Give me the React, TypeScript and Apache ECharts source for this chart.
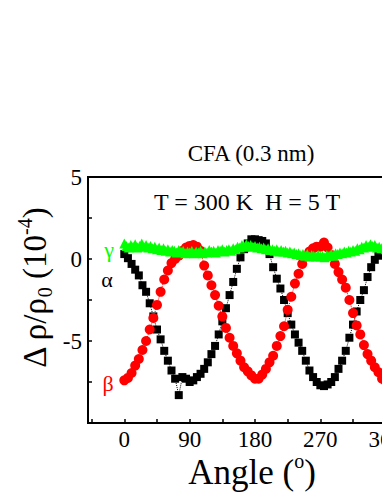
import React, { useEffect, useRef } from "react";
import * as echarts from "echarts";

const xTickValues = [-45, 0, 45, 90, 135, 180, 225, 270, 315, 360, 405];
const xLabelValues = [0, 90, 180, 270, 360];
const yLabelValues = [5, 0, -5];

const alphaAngle = [
  0, 5, 10, 15, 20, 25, 30, 35, 40, 45, 50, 55, 60, 65, 70, 75, 80, 85, 90, 95,
  100, 105, 110, 115, 120, 125, 130, 135, 140, 145, 150, 155, 160, 165, 170, 175,
  180, 185, 190, 195, 200, 205, 210, 215, 220, 225, 230, 235, 240, 245, 250, 255,
  260, 265, 270, 275, 280, 285, 290, 295, 300, 305, 310, 315, 320, 325, 330, 335,
  340, 345, 350, 355, 360,
];
const alphaValue = [
  0.3, 0.05, -0.3, -0.65, -1.0, -1.6, -2.0, -2.7, -3.5, -4.3, -4.9, -5.6, -6.2, -6.8, -7.3, -8.3, -7.2, -7.3, -7.5, -7.4,
  -7.2, -7.0, -6.7, -6.3, -5.8, -5.3, -4.6, -3.8, -3.0, -2.2, -1.4, -0.6, 0.1, 0.6, 0.95, 1.2,
  1.2, 1.15, 1.1, 0.95, 0.3, -0.5, -1.2, -1.8, -2.5, -3.3, -4.0, -4.6, -5.1, -5.6, -6.2, -6.8,
  -7.2, -7.5, -7.7, -7.75, -7.65, -7.5, -7.2, -6.7, -6.2, -5.6, -4.8, -4.0, -3.2, -2.5, -1.9, -1.1,
  -0.5, -0.05, 0.2, 0.3, 0.35,
];

const betaAngle = [
  0, 5, 10, 15, 20, 25, 30, 35, 40, 45, 50, 55, 60, 65, 70, 75, 80, 85, 90, 95,
  100, 105, 110, 115, 120, 125, 130, 135, 140, 145, 150, 155, 160, 165, 170, 175,
  180, 185, 190, 195, 200, 205, 210, 215, 220, 225, 230, 235, 240, 245, 250, 255,
  260, 265, 270, 275, 280, 285, 290, 295, 300, 305, 310, 315, 320, 325, 330, 335,
  340, 345, 350, 355, 360,
];
const betaValue = [
  -7.4, -7.25, -6.95, -6.5, -6.1, -5.55, -5.0, -4.3, -3.6, -2.8, -2.0, -1.25, -0.7, -0.25, 0.0, 0.2, 0.5, 0.7, 0.8, 0.85,
  0.75, 0.5, -0.4, -1.0, -1.6, -2.2, -2.85, -3.5, -4.2, -4.8, -5.3, -5.75, -6.2, -6.6, -6.85, -7.1,
  -7.3, -7.3, -7.05, -6.7, -6.3, -5.9, -5.3, -4.7, -4.1, -3.1, -2.3, -1.5, -0.9, -0.3, 0.15, 0.45,
  0.65, 0.75, 0.75, 1.0, 0.7, 0.25, -0.3, -0.8, -1.25, -1.75, -2.5, -3.3, -4.05, -4.6, -5.25, -5.8,
  -6.2, -6.6, -6.9, -7.3, -7.45,
];

const gammaAngle = [
  0, 3, 6, 9, 12, 15, 18, 21, 24, 27, 30, 33, 36, 39, 42, 45, 48, 51, 54, 57,
  60, 63, 66, 69, 72, 75, 78, 81, 84, 87, 90, 93, 96, 99, 102, 105, 108, 111, 114, 117,
  120, 123, 126, 129, 132, 135, 138, 141, 144, 147, 150, 153, 156, 159, 162, 165, 168, 171, 174, 177,
  180, 183, 186, 189, 192, 195, 198, 201, 204, 207, 210, 213, 216, 219, 222, 225, 228, 231, 234, 237,
  240, 243, 246, 249, 252, 255, 258, 261, 264, 267, 270, 273, 276, 279, 282, 285, 288, 291, 294, 297,
  300, 303, 306, 309, 312, 315, 318, 321, 324, 327, 330, 333, 336, 339, 342, 345, 348, 351, 354, 357,
  360,
];
const gammaValue = [
  0.95, 0.8, 0.7, 0.85, 0.75, 0.9, 0.7, 0.8, 0.95, 0.75, 0.85, 0.7, 0.8, 0.65, 0.75, 0.6, 0.7, 0.55, 0.65, 0.5,
  0.6, 0.45, 0.55, 0.5, 0.4, 0.55, 0.45, 0.5, 0.35, 0.45, 0.4, 0.5, 0.35, 0.45, 0.4, 0.5, 0.35, 0.45, 0.4, 0.55,
  0.45, 0.5, 0.4, 0.55, 0.5, 0.6, 0.45, 0.55, 0.6, 0.5, 0.65, 0.6, 0.75, 0.7, 0.85, 0.75, 0.9, 0.8, 0.85, 0.75,
  0.8, 0.7, 0.75, 0.65, 0.7, 0.6, 0.65, 0.55, 0.6, 0.5, 0.6, 0.45, 0.55, 0.45, 0.5, 0.4, 0.45, 0.35, 0.4, 0.3,
  0.35, 0.25, 0.3, 0.2, 0.3, 0.15, 0.25, 0.2, 0.15, 0.25, 0.15, 0.2, 0.1, 0.25, 0.2, 0.3, 0.2, 0.35, 0.3, 0.4,
  0.35, 0.45, 0.4, 0.5, 0.45, 0.55, 0.5, 0.65, 0.6, 0.75, 0.7, 0.85, 0.75, 0.9, 0.8, 0.85, 0.7, 0.75, 0.65, 0.7,
  0.6,
];

const pairs = (xs: number[], ys: number[]) => xs.map((x, i) => [x, ys[i]]);

const FONT = "Liberation Serif";

export default function App() {
  const ref = useRef<HTMLDivElement>(null);
  useEffect(() => {
    const chart = echarts.init(ref.current!, null, { renderer: "svg" });
    chart.setOption({
      animation: false,
      backgroundColor: "#fff",
      textStyle: { fontFamily: FONT },
      grid: {
        left: 88,
        top: 177,
        width: 334,
        height: 246,
        containLabel: false,
        outerBoundsMode: "none",
        show: true,
        borderColor: "#000",
        borderWidth: 2,
        backgroundColor: "transparent",
      },
      xAxis: {
        type: "value",
        min: -50,
        max: 410,
        splitLine: { show: false },
        axisLine: { show: true, onZero: false, lineStyle: { color: "#000", width: 2 } },
        axisTick: {
          show: true,
          inside: true,
          length: 4,
          customValues: xTickValues,
          lineStyle: { color: "#000", width: 1.5 },
        },
        axisLabel: {
          customValues: xLabelValues,
          color: "#000",
          fontSize: 23,
          fontFamily: FONT,
          margin: 5,
        },
      },
      yAxis: {
        type: "value",
        min: -10,
        max: 5,
        interval: 2.5,
        splitLine: { show: false },
        axisLine: { show: true, onZero: false, lineStyle: { color: "#000", width: 2 } },
        axisTick: { show: true, inside: true, length: 4, lineStyle: { color: "#000", width: 1.5 } },
        axisLabel: {
          color: "#000",
          fontSize: 23,
          fontFamily: FONT,
          margin: 6,
          formatter: (v: number) => (yLabelValues.indexOf(v) >= 0 ? String(v) : ""),
        },
      },
      series: [
        {
          name: "alpha",
          type: "line",
          data: pairs(alphaAngle, alphaValue),
          symbol: "rect",
          symbolSize: 8,
          itemStyle: { color: "#000" },
          lineStyle: { color: "#000", width: 1, type: "dotted" },
          z: 2,
        },
        {
          name: "beta",
          type: "line",
          data: pairs(betaAngle, betaValue),
          symbol: "circle",
          symbolSize: 10,
          itemStyle: { color: "#ff0000" },
          lineStyle: { color: "#ff0000", width: 1, type: "dotted" },
          z: 3,
        },
        {
          name: "gamma",
          type: "line",
          data: pairs(gammaAngle, gammaValue),
          symbol: "triangle",
          symbolSize: 10,
          itemStyle: { color: "#00ff00" },
          lineStyle: { color: "#00ff00", width: 1 },
          z: 4,
        },
      ],
      graphic: [
        {
          type: "text",
          x: 251,
          y: 153,
          style: {
            text: "CFA (0.3 nm)",
            fontSize: 23,
            fontFamily: FONT,
            fill: "#000",
            align: "center",
            verticalAlign: "middle",
          },
        },
        {
          type: "text",
          x: 247,
          y: 202,
          z: 10,
          style: {
            text: "T = 300 K  H = 5 T",
            fontSize: 24,
            fontFamily: FONT,
            fill: "#000",
            align: "center",
            verticalAlign: "middle",
          },
        },
        {
          type: "text",
          x: 109,
          y: 249,
          style: { text: "γ", fontSize: 22, fontFamily: FONT, fill: "#00ff00", align: "center", verticalAlign: "middle" },
        },
        {
          type: "text",
          x: 107,
          y: 279,
          style: { text: "α", fontSize: 22, fontFamily: FONT, fill: "#000", align: "center", verticalAlign: "middle" },
        },
        {
          type: "text",
          x: 108,
          y: 383,
          style: { text: "β", fontSize: 22, fontFamily: FONT, fill: "#ff0000", align: "center", verticalAlign: "middle" },
        },
        {
          type: "text",
          x: 35,
          y: 288,
          rotation: Math.PI / 2,
          style: {
            text: "{m|Δ ρ/ρ}{sub|0}{m| (10}{sup|-4}{m|)}",
            fill: "#000",
            align: "center",
            verticalAlign: "middle",
            rich: {
              m: { fontSize: 33, fontFamily: FONT, fill: "#000", lineHeight: 40 },
              sub: { fontSize: 20, fontFamily: FONT, fill: "#000", lineHeight: 20, verticalAlign: "bottom" },
              sup: { fontSize: 20, fontFamily: FONT, fill: "#000", lineHeight: 20, verticalAlign: "top" },
            },
          },
        },
        {
          type: "text",
          x: 252,
          y: 472,
          style: {
            text: "{m|Angle (}{sup|o}{m|)}",
            fill: "#000",
            align: "center",
            verticalAlign: "middle",
            rich: {
              m: { fontSize: 35, fontFamily: FONT, fill: "#000", lineHeight: 42 },
              sup: { fontSize: 20, fontFamily: FONT, fill: "#000", lineHeight: 20, verticalAlign: "top" },
            },
          },
        },
      ],
    });
    return () => chart.dispose();
  }, []);
  return (
    <div
      ref={ref}
      style={{ position: "fixed", left: 0, top: 0, width: 382, height: 494, background: "#fff" }}
    />
  );
}
